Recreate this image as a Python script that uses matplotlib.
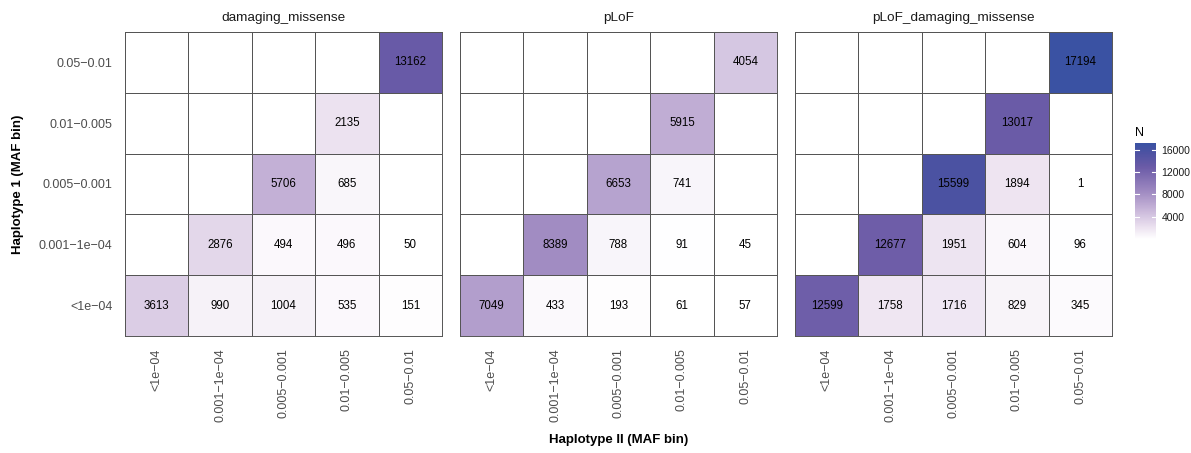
import numpy as np
import matplotlib
matplotlib.use('Agg')
import matplotlib.pyplot as plt
from matplotlib.colors import LinearSegmentedColormap, Normalize

plt.rcParams['font.family'] = ['Liberation Sans', 'DejaVu Sans']

bins = ["<1e\u221204", "0.001\u22121e\u221204", "0.005\u22120.001", "0.01\u22120.005", "0.05\u22120.01"]
panels = ["damaging_missense", "pLoF", "pLoF_damaging_missense"]
nan = np.nan

# rows = Haplotype 1 bin (bottom to top), cols = Haplotype II bin
dmg_missense = [[3613, 990, 1004, 535, 151],
                [nan, 2876, 494, 496, 50],
                [nan, nan, 5706, 685, nan],
                [nan, nan, nan, 2135, nan],
                [nan, nan, nan, nan, 13162]]
plof = [[7049, 433, 193, 61, 57],
        [nan, 8389, 788, 91, 45],
        [nan, nan, 6653, 741, nan],
        [nan, nan, nan, 5915, nan],
        [nan, nan, nan, nan, 4054]]
plof_dmg_missense = [[12599, 1758, 1716, 829, 345],
                     [nan, 12677, 1951, 604, 96],
                     [nan, nan, 15599, 1894, 1],
                     [nan, nan, nan, 13017, nan],
                     [nan, nan, nan, nan, 17194]]
counts = [dmg_missense, plof, plof_dmg_missense]

cmap = LinearSegmentedColormap.from_list(
    "wpb", [(0.0, "#ffffff"), (0.12, "#ece2f0"), (0.33, "#c3b0d6"),
            (0.49, "#a08bc2"), (0.75, "#6b5ba7"), (0.9, "#4d52a2"),
            (1.0, "#3a52a3")])
cmap.set_bad("white")
allv = np.concatenate([np.ravel(c) for c in counts])
norm = Normalize(vmin=np.nanmin(allv), vmax=np.nanmax(allv))

W, H = 1191, 453
fig = plt.figure(figsize=(W / 100, H / 100), dpi=100)

def px(x0, y0, x1, y1):
    return [x0 / W, 1 - y1 / H, (x1 - x0) / W, (y1 - y0) / H]

grid_col = "#555555"
lefts = [125, 460, 795]
pw = 317
for k, (name, data) in enumerate(zip(panels, counts)):
    ax = fig.add_axes(px(lefts[k], 32, lefts[k] + pw, 336))
    arr = np.ma.masked_invalid(np.array(data, dtype=float))
    ax.pcolormesh(np.arange(6), np.arange(6), arr, cmap=cmap, norm=norm,
                  edgecolors=grid_col, linewidth=0.55)
    for i in range(5):
        for j in range(5):
            v = data[i][j]
            if not np.isnan(v):
                ax.text(j + 0.5, i + 0.5, f"{int(v)}", ha="center", va="center",
                        fontsize=8.3, color="black")
    ax.set_xlim(0, 5)
    ax.set_ylim(0, 5)
    ax.set_xticks(np.arange(5) + 0.5)
    ax.set_xticklabels(bins, rotation=90, fontsize=9, color="#4d4d4d")
    ax.set_yticks(np.arange(5) + 0.5)
    if k == 0:
        ax.set_yticklabels(bins, fontsize=9, color="#4d4d4d")
    else:
        ax.set_yticklabels([])
    ax.tick_params(length=0, pad=9)
    for s in ax.spines.values():
        s.set_color(grid_col)
        s.set_linewidth(0.7)
    ax.set_title(name, fontsize=9.7, color="#1a1a1a", pad=8)

fig.text((125 + 1112) / 2 / W, 1 - 440 / H, "Haplotype II (MAF bin)",
         ha="center", va="center", fontsize=9.5, fontweight="bold")
fig.text(18 / W, 1 - 184 / H, "Haplotype 1 (MAF bin)", rotation=90,
         ha="center", va="center", fontsize=9.5, fontweight="bold")

# colourbar
cax = fig.add_axes(px(1135, 143, 1156, 239))
cb = fig.colorbar(plt.cm.ScalarMappable(norm=norm, cmap=cmap), cax=cax)
cb.outline.set_visible(False)
cb.set_ticks([4000, 8000, 12000, 16000])
cax.tick_params(length=0, labelsize=7.5, pad=4, colors="#1a1a1a")
for t in [4000, 8000, 12000, 16000]:
    cax.plot([0, 0.2], [t, t], color="white", lw=0.8, transform=cax.get_yaxis_transform())
    cax.plot([0.8, 1.0], [t, t], color="white", lw=0.8, transform=cax.get_yaxis_transform())
fig.text(1135 / W, 1 - 133 / H, "N", ha="left", va="center", fontsize=9)

fig.savefig("out.png", dpi=100)
